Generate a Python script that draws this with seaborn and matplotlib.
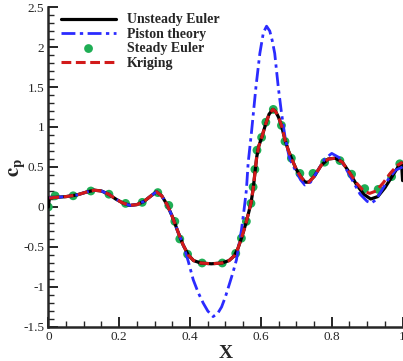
import matplotlib
matplotlib.use("Agg")
import matplotlib.pyplot as plt
import seaborn as sns
from matplotlib.ticker import MultipleLocator, FuncFormatter

# Unsteady Euler (black solid)
x_euler = [0.0, 0.003, 0.02, 0.05, 0.08, 0.11, 0.13, 0.15, 0.17, 0.19, 0.21, 0.23, 0.25,
           0.27, 0.29, 0.305, 0.32, 0.335, 0.35, 0.365, 0.38, 0.395, 0.41, 0.43, 0.46,
           0.49, 0.51, 0.525, 0.535, 0.545, 0.552, 0.559, 0.566, 0.572, 0.578, 0.583,
           0.588, 0.594, 0.603, 0.613, 0.623, 0.634, 0.642, 0.65, 0.658, 0.668, 0.678,
           0.688, 0.70, 0.712, 0.725, 0.735, 0.75, 0.77, 0.79, 0.81, 0.83, 0.85, 0.87,
           0.89, 0.91, 0.93, 0.95, 0.97, 0.99, 0.997, 1.0]
y_euler = [0.0, 0.12, 0.12, 0.13, 0.15, 0.19, 0.21, 0.20, 0.16, 0.10, 0.05, 0.02, 0.03,
           0.07, 0.14, 0.19, 0.14, 0.03, -0.12, -0.30, -0.47, -0.60, -0.67, -0.70, -0.71,
           -0.70, -0.67, -0.61, -0.52, -0.39, -0.29, -0.18, -0.06, 0.05, 0.22, 0.42,
           0.62, 0.76, 0.88, 1.03, 1.16, 1.22, 1.19, 1.12, 1.02, 0.84, 0.70,
           0.59, 0.47, 0.38, 0.31, 0.31, 0.38, 0.52, 0.60, 0.61, 0.56, 0.43, 0.28,
           0.16, 0.10, 0.13, 0.24, 0.38, 0.52, 0.55, 0.33]

# Piston theory (blue dash-dot)
x_piston = [0.003, 0.02, 0.05, 0.08, 0.11, 0.13, 0.15, 0.17, 0.19, 0.21, 0.23, 0.25,
            0.27, 0.29, 0.305, 0.32, 0.335, 0.35, 0.365, 0.381, 0.395, 0.409, 0.423,
            0.437, 0.45, 0.465, 0.478, 0.489, 0.50, 0.512, 0.521, 0.531, 0.545, 0.552,
            0.559, 0.564, 0.574, 0.586, 0.597, 0.607, 0.616, 0.625, 0.632, 0.639, 0.649,
            0.658, 0.668, 0.68, 0.69, 0.70, 0.712, 0.724, 0.74, 0.76, 0.78, 0.80, 0.82,
            0.84, 0.86, 0.88, 0.90, 0.912, 0.925, 0.94, 0.96, 0.98, 1.0]
y_piston = [0.12, 0.12, 0.13, 0.15, 0.19, 0.21, 0.20, 0.16, 0.10, 0.05, 0.02, 0.03,
            0.07, 0.14, 0.19, 0.14, 0.03, -0.12, -0.30, -0.475, -0.68, -0.91, -1.07,
            -1.20, -1.30, -1.37, -1.33, -1.25, -1.12, -0.95, -0.82, -0.66, -0.29, -0.05,
            0.21, 0.55, 0.96, 1.50, 1.92, 2.18, 2.26, 2.20, 2.08, 1.92, 1.50,
            1.18, 0.88, 0.62, 0.52, 0.44, 0.34, 0.275, 0.31, 0.45, 0.60, 0.67, 0.62,
            0.48, 0.32, 0.16, 0.07, 0.05, 0.09, 0.20, 0.35, 0.46, 0.50]

# Kriging (red dashed)
x_kriging = [0.003, 0.02, 0.05, 0.08, 0.11, 0.13, 0.15, 0.17, 0.19, 0.21, 0.23, 0.25,
             0.27, 0.29, 0.305, 0.32, 0.335, 0.35, 0.365, 0.38, 0.395, 0.41, 0.43, 0.46,
             0.49, 0.51, 0.525, 0.535, 0.545, 0.552, 0.559, 0.566, 0.572, 0.578, 0.583,
             0.588, 0.594, 0.603, 0.613, 0.623, 0.634, 0.642, 0.65, 0.658, 0.668, 0.678,
             0.688, 0.70, 0.712, 0.725, 0.735, 0.75, 0.77, 0.79, 0.81, 0.83, 0.85, 0.87,
             0.89, 0.907, 0.925, 0.945, 0.965, 0.985, 1.0]
y_kriging = [0.11, 0.12, 0.13, 0.15, 0.19, 0.21, 0.20, 0.16, 0.10, 0.05, 0.02, 0.03,
             0.07, 0.14, 0.19, 0.14, 0.03, -0.12, -0.30, -0.47, -0.60, -0.67, -0.70, -0.71,
             -0.70, -0.67, -0.61, -0.52, -0.39, -0.29, -0.18, -0.06, 0.05, 0.22, 0.42,
             0.62, 0.76, 0.88, 1.03, 1.16, 1.22, 1.19, 1.12, 1.02, 0.84, 0.70,
             0.59, 0.47, 0.38, 0.31, 0.31, 0.38, 0.52, 0.60, 0.61, 0.56, 0.43, 0.30,
             0.20, 0.17, 0.20, 0.30, 0.42, 0.52, 0.56]

# Steady Euler (green markers)
x_steady = [0.0, 0.019, 0.07, 0.12, 0.171, 0.218, 0.265, 0.309, 0.34, 0.357, 0.371,
            0.393, 0.434, 0.491, 0.529, 0.545, 0.559, 0.572, 0.578, 0.583, 0.589, 0.602,
            0.614, 0.635, 0.658, 0.668, 0.686, 0.71, 0.747, 0.78, 0.823, 0.856, 0.893,
            0.931, 0.969, 0.992]
y_steady = [0.0, 0.14, 0.14, 0.20, 0.16, 0.045, 0.058, 0.18, 0.02, -0.18, -0.40,
            -0.59, -0.70, -0.70, -0.58, -0.39, -0.18, 0.046, 0.25, 0.47, 0.71, 0.87,
            1.06, 1.22, 1.02, 0.82, 0.61, 0.42, 0.42, 0.56, 0.58, 0.41, 0.23,
            0.22, 0.38, 0.54]

sns.set_style("ticks")
plt.rcParams['font.family'] = ['Liberation Serif', 'DejaVu Serif']
plt.rcParams['mathtext.fontset'] = 'stix'
plt.rcParams['axes.unicode_minus'] = False

fig = plt.figure(figsize=(4.03, 3.61), dpi=100)
ax = fig.add_axes([0.120, 0.0942, 0.879, 0.8864])

sns.scatterplot(x=x_steady, y=y_steady, ax=ax, color='#1fae55', s=40,
                edgecolor='none', label='Steady Euler', zorder=2)
sns.lineplot(x=x_euler, y=y_euler, ax=ax, color='black', lw=2.3,
             sort=False, estimator=None, label='Unsteady Euler', zorder=3)
sns.lineplot(x=x_piston, y=y_piston, ax=ax, color='#2b2bff', lw=2.0,
             linestyle=(0, (5, 1.6, 1.2, 1.6)), sort=False, estimator=None,
             label='Piston theory', zorder=4)
sns.lineplot(x=x_kriging, y=y_kriging, ax=ax, color='#d21a1a', lw=2.2,
             linestyle=(0, (3.2, 1.5)), sort=False, estimator=None,
             label='Kriging', zorder=5)

ax.set_xlim(0, 1)
ax.set_ylim(-1.5, 2.5)
ax.xaxis.set_major_locator(MultipleLocator(0.2))
ax.xaxis.set_minor_locator(MultipleLocator(0.05))
ax.yaxis.set_major_locator(MultipleLocator(0.5))
ax.yaxis.set_minor_locator(MultipleLocator(0.1))
fmt = FuncFormatter(lambda v, p: '{:g}'.format(round(v, 3)))
ax.xaxis.set_major_formatter(fmt)
ax.yaxis.set_major_formatter(fmt)
ax.tick_params(which='major', direction='in', length=7, width=1.4, labelsize=9.5)
ax.tick_params(axis='x', which='major', pad=3)
ax.tick_params(axis='y', which='major', pad=3)
ax.tick_params(which='minor', direction='in', length=4, width=1.0)
sns.despine(ax=ax)
for s in ['left', 'bottom']:
    ax.spines[s].set_linewidth(1.8)

ax.set_xlabel('X', fontsize=14, fontweight='bold')
ax.set_ylabel(r'$\mathbf{c_p}$', fontsize=15)
ax.xaxis.set_label_coords(0.5, -0.055)
ax.yaxis.set_label_coords(-0.058, 0.5)

handles, labels = ax.get_legend_handles_labels()
order = ['Unsteady Euler', 'Piston theory', 'Steady Euler', 'Kriging']
hmap = dict(zip(labels, handles))
ax.legend([hmap[k] for k in order], order, loc='upper left',
          bbox_to_anchor=(0.035, 0.98), frameon=False, borderpad=0,
          borderaxespad=0, handlelength=4.0, handletextpad=0.75,
          labelspacing=0.1, prop={'weight': 'bold', 'size': 10})

fig.savefig('out.png', dpi=100)
